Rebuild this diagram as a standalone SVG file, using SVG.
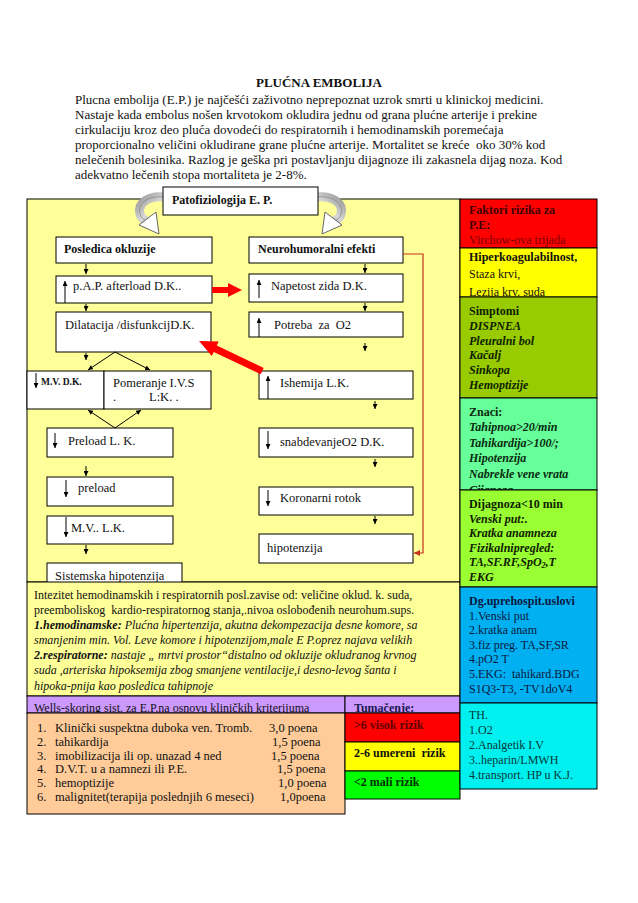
<svg xmlns="http://www.w3.org/2000/svg" width="638" height="903" viewBox="0 0 638 903">
<style>
.t{font-family:"Liberation Serif","Times New Roman",serif;font-size:12.5px;fill:#111;white-space:pre}
.s{font-size:12px}
.p{font-size:13px}
.b{font-weight:bold}
.i{font-style:italic}
.box{fill:#fff;stroke:#000;stroke-width:1}
.ar{stroke:#000;stroke-width:1;fill:none;marker-end:url(#ah)}
</style>
<defs>
<marker id="ah" viewBox="0 0 6 6" refX="6" refY="3" markerWidth="5" markerHeight="5" markerUnits="userSpaceOnUse" orient="auto"><path d="M0,0 L6,3 L0,6 z" fill="#000"/></marker>
<marker id="rh" viewBox="0 0 6 6" refX="6" refY="3" markerWidth="6" markerHeight="6" markerUnits="userSpaceOnUse" orient="auto"><path d="M0,0 L6,3 L0,6 z" fill="#c8301e"/></marker>
<linearGradient id="gr" x1="0" y1="0" x2="1" y2="1"><stop offset="0" stop-color="#9a9a9a"/><stop offset="0.5" stop-color="#d8d8d8"/><stop offset="1" stop-color="#8a8a8a"/></linearGradient>
</defs>

<g id="intro">
<text class="t b p" x="319" y="87" text-anchor="middle">PLUĆNA EMBOLIJA</text>
<text class="t p" x="75" y="104">Plucna embolija (E.P.) je najčešći zaživotno neprepoznat uzrok smrti u klinickoj medicini.</text>
<text class="t p" x="75" y="119">Nastaje kada embolus nošen krvotokom okludira jednu od grana plućne arterije i prekine</text>
<text class="t p" x="75" y="134">cirkulaciju kroz deo pluća dovodeći do respiratornih i hemodinamskih poremećaja</text>
<text class="t p" x="75" y="148.5">proporcionalno veličini okludirane grane plućne arterije. Mortalitet se kreće  oko 30% kod</text>
<text class="t p" x="75" y="163.5">nelečenih bolesinika. Razlog je geška pri postavljanju dijagnoze ili zakasnela dijag noza. Kod</text>
<text class="t p" x="75" y="178.5">adekvatno lečenih stopa mortaliteta je 2-8%.</text>
</g>

<g id="panel">
<rect x="27" y="199" width="433" height="383" fill="#FFFF99" stroke="#000"/>
</g>

<g id="curves">
<g id="curve-left">
<path d="M165,197 C149,195 137,203 140,214 C141,218 144,220 147,221" fill="none" stroke="url(#gr)" stroke-width="9"/>
<path d="M165,197 C149,195 137,203 140,214 C141,218 144,220 147,221" fill="none" stroke="#777" stroke-width="0.6"/>
<polygon points="139,225 156,212 159,234" fill="#fff" stroke="#666" stroke-width="1"/>
</g>
<g id="curve-right" transform="translate(481,0) scale(-1,1)">
<path d="M165,197 C149,195 137,203 140,214 C141,218 144,220 147,221" fill="none" stroke="url(#gr)" stroke-width="9"/>
<path d="M165,197 C149,195 137,203 140,214 C141,218 144,220 147,221" fill="none" stroke="#777" stroke-width="0.6"/>
<polygon points="139,225 156,212 159,234" fill="#fff" stroke="#666" stroke-width="1"/>
</g>
</g>

<g id="patofiziologija">
<rect class="box" x="163" y="187" width="155" height="28"/>
<text class="t b s" x="172" y="204">Patofiziologija E. P.</text>
</g>

<g id="posledica">
<rect class="box" x="56" y="237" width="156" height="26"/>
<text class="t b s" x="64" y="253">Posledica okluzije</text>
</g>
<g id="pap">
<rect class="box" x="56" y="276" width="156" height="27"/>
<text class="t" x="73" y="290">p.A.P. afterload D.K..</text>
<line class="ar" x1="65" y1="303" x2="65" y2="281"/>
</g>
<g id="dilatacija">
<rect class="box" x="56" y="312" width="155" height="40"/>
<text class="t" x="65" y="329">Dilatacija /disfunkcijD.K.</text>
</g>
<g id="mvdk">
<rect class="box" x="27" y="371" width="77" height="38"/>
<text class="t b" x="41" y="385" style="font-size:9.5px">M.V. D.K.</text>
<line class="ar" x1="36" y1="373" x2="36" y2="388"/>
</g>
<g id="pomeranje">
<rect class="box" x="104" y="371" width="107" height="38"/>
<text class="t" x="113" y="387">Pomeranje I.V.S</text>
<text class="t" x="113" y="401">.</text>
<text class="t" x="149" y="401">L:K. .</text>
</g>
<g id="preload-lk">
<rect class="box" x="47" y="428" width="126" height="29"/>
<text class="t" x="68" y="445">Preload L. K.</text>
<line class="ar" x1="55" y1="433" x2="55" y2="448"/>
</g>
<g id="preload">
<rect class="box" x="47" y="477" width="126" height="29"/>
<text class="t" x="78" y="492">preload</text>
<line class="ar" x1="66" y1="480" x2="66" y2="497"/>
</g>
<g id="mvlk">
<rect class="box" x="47" y="516" width="126" height="28"/>
<text class="t" x="71" y="532">M.V.. L.K.</text>
<line class="ar" x1="66" y1="517" x2="66" y2="537"/>
</g>
<g id="sistemska">
<rect class="box" x="47" y="563" width="135" height="25"/>
<text class="t" x="55" y="580">Sistemska hipotenzija</text>
</g>

<g id="neurohumoralni">
<rect class="box" x="249" y="237" width="154" height="26"/>
<text class="t b s" x="258" y="253">Neurohumoralni efekti</text>
</g>
<g id="napetost">
<rect class="box" x="249" y="274" width="154" height="28"/>
<text class="t" x="271" y="290">Napetost zida D.K.</text>
<line class="ar" x1="259" y1="298" x2="259" y2="280"/>
</g>
<g id="potreba">
<rect class="box" x="249" y="312" width="154" height="25"/>
<text class="t" x="274" y="329">Potreba  za  O2</text>
<line class="ar" x1="259" y1="337" x2="259" y2="318"/>
</g>
<g id="ishemija">
<rect class="box" x="259" y="371" width="154" height="28"/>
<text class="t" x="280" y="387">Ishemija L.K.</text>
<line class="ar" x1="268" y1="399" x2="268" y2="376"/>
</g>
<g id="snabdevanje">
<rect class="box" x="259" y="428" width="154" height="29"/>
<text class="t" x="280" y="446">snabdevanjeO2 D.K.</text>
<line class="ar" x1="268" y1="431" x2="268" y2="449"/>
</g>
<g id="koronarni">
<rect class="box" x="259" y="487" width="154" height="28"/>
<text class="t" x="280" y="502">Koronarni rotok</text>
<line class="ar" x1="268" y1="490" x2="268" y2="506"/>
</g>
<g id="hipotenzija">
<rect class="box" x="259" y="534" width="154" height="29"/>
<text class="t" x="267" y="552">hipotenzija</text>
</g>

<g id="connectors">
<line class="ar" x1="86" y1="264" x2="86" y2="274"/>
<line class="ar" x1="86" y1="304" x2="86" y2="311"/>
<line class="ar" x1="86" y1="353" x2="86" y2="360"/>
<line class="ar" x1="115" y1="352" x2="88" y2="370"/>
<line class="ar" x1="115" y1="352" x2="150" y2="370"/>
<line class="ar" x1="115" y1="428" x2="88" y2="410"/>
<line class="ar" x1="115" y1="428" x2="141" y2="410"/>
<line class="ar" x1="86" y1="466" x2="86" y2="476"/>
<line class="ar" x1="86" y1="545" x2="86" y2="554"/>
<line class="ar" x1="365" y1="264" x2="365" y2="273"/>
<line class="ar" x1="365" y1="303" x2="365" y2="311"/>
<line class="ar" x1="365" y1="343" x2="365" y2="351"/>
<line class="ar" x1="375" y1="401" x2="375" y2="409"/>
<line class="ar" x1="375" y1="459" x2="375" y2="467"/>
<line class="ar" x1="375" y1="516" x2="375" y2="524"/>
<polyline points="403,254 423,254 423,553 414,553" fill="none" stroke="#c8301e" stroke-width="1.2" marker-end="url(#rh)"/>
<polygon points="212,287 228,287 228,283 242,290 228,297 228,293 212,293" fill="#f00"/>
<g transform="translate(199,341) rotate(25.5)">
<polygon points="0,0 18,-8 18,-3.5 70,-3.5 70,3.5 18,3.5 18,8" fill="#f00"/>
</g>
</g>

<g id="intezitet">
<rect x="27" y="582" width="433" height="114" fill="#FFFF99" stroke="#000"/>
<text class="t s" x="34" y="599">Intezitet hemodinamskih i respiratornih posl.zavise od: veličine oklud. k. suda,</text>
<text class="t s" x="34" y="614">preemboliskog  kardio-respiratornog stanja,.nivoa oslobođenih neurohum.sups.</text>
<text class="t s i" x="34" y="629"><tspan class="b">1.hemodinamske:</tspan> Plućna hipertenzija, akutna dekompezacija desne komore, sa</text>
<text class="t s i" x="34" y="644">smanjenim min. Vol. Leve komore i hipotenzijom,male E P.oprez najava velikih</text>
<text class="t s i" x="34" y="659"><tspan class="b">2.respiratorne:</tspan> nastaje „ mrtvi prostor“distalno od okluzije okludranog krvnog</text>
<text class="t s i" x="34" y="674">suda ,arteriska hipoksemija zbog smanjene ventilacije,i desno-levog šanta i</text>
<text class="t s i" x="34" y="690">hipoka-pnija kao posledica tahipnoje</text>
</g>

<g id="wells-header">
<rect x="27" y="696" width="318" height="17" fill="#CC99FF" stroke="#000"/>
<text class="t s" x="34" y="711.5">Wells-skoring sist. za E.P.na osnovu kliničkih kriterijuma</text>
</g>
<g id="tumacenje">
<rect x="345" y="696" width="115" height="17" fill="#CC99FF" stroke="#000"/>
<text class="t b s" x="354" y="712" style="fill:#1a1a50">Tumačenje:</text>
</g>
<g id="wells-list">
<rect x="27" y="713" width="318" height="101" fill="#FFCC99" stroke="#000"/>
<text class="t" x="37" y="732">1.</text><text class="t" x="55" y="732">Klinički suspektna duboka ven. Tromb.</text><text class="t" x="269" y="732">3,0 poena</text>
<text class="t" x="37" y="746">2.</text><text class="t" x="55" y="746">tahikardija</text><text class="t" x="272" y="746">1,5 poena</text>
<text class="t" x="37" y="760">3.</text><text class="t" x="55" y="760">imobilizacija ili op. unazad 4 ned</text><text class="t" x="271" y="760">1,5 poena</text>
<text class="t" x="37" y="773">4.</text><text class="t" x="55" y="773">D.V.T. u a namnezi ili P.E.</text><text class="t" x="277" y="773">1,5 poena</text>
<text class="t" x="37" y="787">5.</text><text class="t" x="55" y="787">hemoptizije</text><text class="t" x="278" y="787">1,0 poena</text>
<text class="t" x="37" y="801">6.</text><text class="t" x="55" y="801">malignitet(terapija poslednjih 6 meseci)</text><text class="t" x="280" y="801">1,0poena</text>
</g>
<g id="visok">
<rect x="345" y="713" width="115" height="29" fill="#FF0000" stroke="#000"/>
<text class="t b s" x="354" y="729" style="fill:#600000">&gt;6 visok rizik</text>
</g>
<g id="umereni">
<rect x="345" y="742" width="115" height="29" fill="#FFFF00" stroke="#000"/>
<text class="t b s" x="354" y="757">2-6 umereni  rizik</text>
</g>
<g id="mali">
<rect x="345" y="771" width="115" height="28" fill="#00FF00" stroke="#000"/>
<text class="t b s" x="354" y="786" style="fill:#003000">&lt;2 mali rizik</text>
</g>

<g id="faktori">
<rect x="460" y="199" width="137" height="49" fill="#FF0000" stroke="#000"/>
<text class="t b s" x="469" y="214" style="fill:#400000">Faktori rizika za</text>
<text class="t b s" x="469" y="229" style="fill:#400000">P.E:</text>
<text class="t s" x="469" y="244" style="fill:#7a0000">Virchow-ova trijada</text>
</g>
<g id="hiperkoagulabilnost">
<rect x="460" y="248" width="137" height="49" fill="#FFFF00" stroke="#000"/>
<text class="t b s" x="469" y="261">Hiperkoagulabilnost,</text>
<text class="t s" x="469" y="278">Staza krvi,</text>
<text class="t s" x="469" y="296">Lezija krv. suda</text>
</g>
<g id="simptomi">
<rect x="460" y="297" width="137" height="101" fill="#99CC00" stroke="#000"/>
<text class="t b s" x="469" y="315" style="fill:#0e1e00">Simptomi</text>
<text class="t b i s" x="469" y="330" style="fill:#0e1e00">DISPNEA</text>
<text class="t b i s" x="469" y="345" style="fill:#0e1e00">Pleuralni bol</text>
<text class="t b i s" x="469" y="359" style="fill:#0e1e00">Kačalj</text>
<text class="t b i s" x="469" y="374" style="fill:#0e1e00">Sinkopa</text>
<text class="t b i s" x="469" y="389" style="fill:#0e1e00">Hemoptizije</text>
</g>
<g id="znaci">
<rect x="460" y="398" width="137" height="92" fill="#66FF99" stroke="#000"/>
<text class="t b s" x="469" y="416" style="fill:#0a2a10">Znaci:</text>
<text class="t b i s" x="469" y="431" style="fill:#0a2a10">Tahipnoa&gt;20/min</text>
<text class="t b i s" x="469" y="447" style="fill:#0a2a10">Tahikardija&gt;100/;</text>
<text class="t b i s" x="469" y="462" style="fill:#0a2a10">Hipotenzija</text>
<text class="t b i s" x="469" y="478" style="fill:#0a2a10">Nabrekle vene vrata</text>
<text class="t b i s" x="469" y="494" style="fill:#0a2a10">Cijanoza</text>
</g>
<g id="dijagnoza">
<rect x="460" y="490" width="137" height="97" fill="#99FF33" stroke="#000"/>
<text class="t b s" x="469" y="508" style="fill:#102000">Dijagnoza&lt;10 min</text>
<text class="t b i s" x="469" y="523" style="fill:#102000">Venski put:.</text>
<text class="t b i s" x="469" y="537" style="fill:#102000">Kratka anamneza</text>
<text class="t b i s" x="469" y="552" style="fill:#102000">Fizikalnipregled:</text>
<text class="t b i s" x="469" y="566" style="fill:#102000">TA,SF.RF,SpO<tspan style="font-size:8px" dy="2">2</tspan><tspan dy="-2">,T</tspan></text>
<text class="t b i s" x="469" y="581" style="fill:#102000">EKG</text>
</g>
<g id="prehospit">
<rect x="460" y="587" width="137" height="116" fill="#00B0F0" stroke="#000"/>
<text class="t b s" x="469" y="605" style="fill:#0a1840">Dg.uprehospit.uslovi</text>
<text class="t s" x="469" y="620" style="fill:#0a1840">1.Venski put</text>
<text class="t s" x="469" y="634" style="fill:#0a1840">2.kratka anam</text>
<text class="t s" x="469" y="649" style="fill:#0a1840">3.fiz preg. TA,SF,SR</text>
<text class="t s" x="469" y="663" style="fill:#0a1840">4.pO2 T</text>
<text class="t s" x="469" y="678" style="fill:#0a1840">5.EKG:  tahikard.BDG</text>
<text class="t s" x="469" y="693" style="fill:#0a1840">S1Q3-T3, -TV1doV4</text>
</g>
<g id="terapija">
<rect x="460" y="703" width="137" height="86" fill="#00F0F0" stroke="#000"/>
<text class="t s" x="469" y="719" style="fill:#003838">TH.</text>
<text class="t s" x="469" y="734" style="fill:#003838">1.O2</text>
<text class="t s" x="469" y="749" style="fill:#003838">2.Analgetik I.V</text>
<text class="t s" x="469" y="764" style="fill:#003838">3..heparin/LMWH</text>
<text class="t s" x="469" y="779" style="fill:#003838">4.transport. HP u K.J.</text>
</g>
</svg>
